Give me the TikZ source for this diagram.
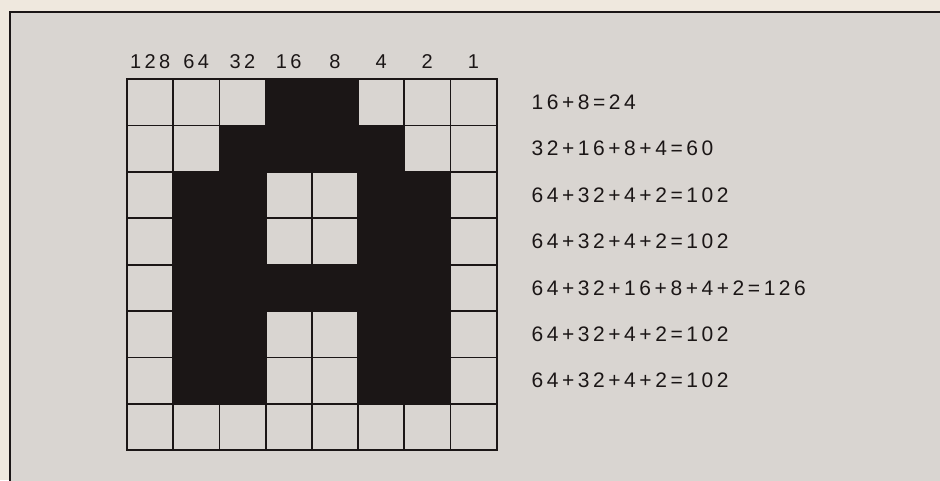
\documentclass[tikz,border=0pt]{standalone}
\usepackage{fontspec}
\setmainfont[LetterSpace=17]{Liberation Sans}
\usepackage{xcolor}
\definecolor{paper}{HTML}{EFE8DE}
\definecolor{panel}{HTML}{D9D5D1}
\definecolor{ink}{HTML}{1B1616}

\begin{document}
\begin{tikzpicture}[x=1pt,y=-1pt]
\useasboundingbox (0,0) rectangle (940,480);
\fill[paper] (0,0) rectangle (940,480);
\fill[panel] (10,12) rectangle (960,500);
\draw[ink,line width=2.5pt] (10,12) rectangle (960,500);
% the 8x8 character grid
\begin{scope}[shift={(127,79)},x=46.2pt,y=-46.4pt]
\foreach \c/\r in {3/0,4/0, 2/1,3/1,4/1,5/1,
  1/2,2/2,5/2,6/2, 1/3,2/3,5/3,6/3,
  1/4,2/4,3/4,4/4,5/4,6/4,
  1/5,2/5,5/5,6/5, 1/6,2/6,5/6,6/6}
  \fill[ink] (\c,\r) rectangle ++(1,1);
\foreach \k in {1,...,7} {
  \draw[ink,line width=1.8pt] (\k,0) -- (\k,8);
  \draw[ink,line width=1.8pt] (0,\k) -- (8,\k);
}
\draw[ink,line width=2.2pt] (0,0) rectangle (8,8);
% bit weights
\foreach \v [count=\i from 0] in {128,64,32,16,8,4,2,1}
  \node[ink,font=\fontsize{20}{24}\selectfont] (w\i) at (\i+0.5,-0.37) {\v};
% row sums
\foreach \t [count=\i from 0] in {16+8=24, 32+16+8+4=60, 64+32+4+2=102,
  64+32+4+2=102, 64+32+16+8+4+2=126, 64+32+4+2=102, 64+32+4+2=102}
  \node[ink,anchor=west,font=\fontsize{21}{25}\selectfont] (s\i) at (8.68,\i+0.5) {\t};
\end{scope}
\end{tikzpicture}
\end{document}
